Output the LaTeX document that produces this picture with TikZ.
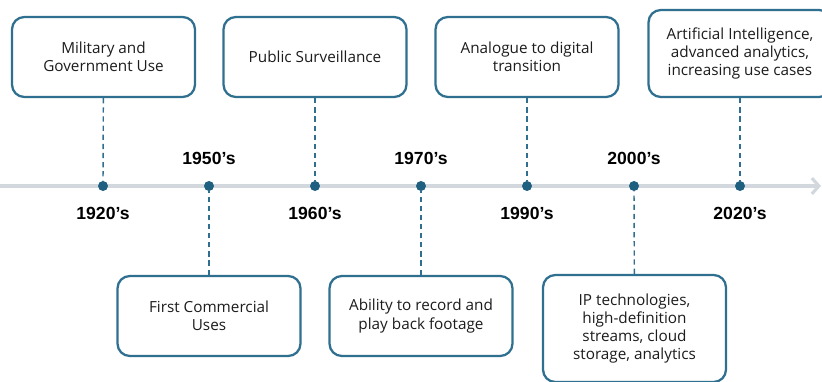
\documentclass[tikz,border=0pt]{standalone}
\usepackage{fontspec}
\setmainfont{Open Sans}
\newfontfamily\yearfont{Liberation Sans}
\usepackage{xcolor}
\usetikzlibrary{arrows.meta,positioning}

\definecolor{boxline}{HTML}{2F6F8F}
\definecolor{dotfill}{HTML}{1F5F80}
\definecolor{axisgray}{HTML}{D3D8DE}
\definecolor{txtgray}{HTML}{1C1C1C}

\begin{document}
\begin{tikzpicture}[x=0.02cm,y=-0.02cm,
  eventbox/.style={draw=boxline,line width=1.3pt,rounded corners=7pt,fill=white,
    minimum width=3.66cm,minimum height=1.6cm,align=center,text=txtgray,
    font=\fontsize{8.7}{10.3}\selectfont},
  yearlabel/.style={font=\yearfont\bfseries\fontsize{10}{12}\selectfont,text=black},
  tldot/.style={circle,fill=dotfill,inner sep=0pt,minimum size=0.2cm},
  link/.style={draw=boxline,line width=0.8pt,dash pattern=on 3pt off 2.2pt}]
\useasboundingbox (0,0) rectangle (822,382);
\clip (0,0) rectangle (822,382);
\coordinate (axisstart) at (0,186);
\coordinate (axisend) at (821,186);
\draw [axisgray,line width=1.8pt,-{Straight Barb[length=4pt,width=9pt]}] (axisstart) -- (axisend);
\foreach \x [count=\i] in {103,209,315,421,527,634,740}
  \node [tldot] (d\i) at (\x,186) {};
\node [eventbox] (b1) at (103.5,57) {Military and\\Government Use};
\node [eventbox] (b2) at (209,316) {First Commercial\\Uses};
\node [eventbox] (b3) at (315,57) {Public Surveillance};
\node [eventbox] (b4) at (421,316) {Ability to record and\\play back footage};
\node [eventbox] (b5) at (527,57) {Analogue to digital\\transition};
\node [eventbox,minimum height=2.14cm] (b6) at (634.5,328.5) {IP technologies,\\high-definition\\streams, cloud\\storage, analytics};
\node [eventbox,minimum height=1.74cm] (b7) at (740,53.5) {Artificial Intelligence,\\advanced analytics,\\increasing use cases};
\foreach \i in {1,...,7}
  \draw [link] (b\i) -- (d\i);
\node [yearlabel] (y1) at (103,213) {1920’s};
\node [yearlabel] (y2) at (209,158) {1950’s};
\node [yearlabel] (y3) at (315,213) {1960’s};
\node [yearlabel] (y4) at (421,158) {1970’s};
\node [yearlabel] (y5) at (527,213) {1990’s};
\node [yearlabel] (y6) at (634,158) {2000’s};
\node [yearlabel] (y7) at (740,213) {2020’s};
\end{tikzpicture}
\end{document}
